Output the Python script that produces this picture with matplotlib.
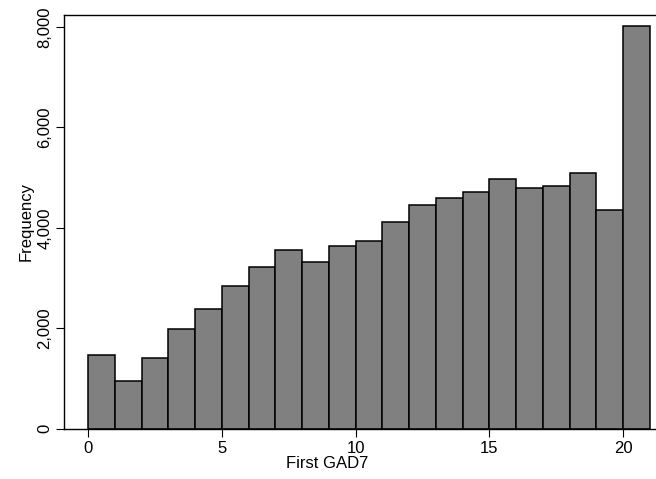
import numpy as np
import matplotlib
matplotlib.use("Agg")
import matplotlib.pyplot as plt

plt.rcParams['font.family'] = ['Liberation Sans', 'DejaVu Sans']

# histogram bins (left edges, width 1) and counts
bin_left = list(range(0, 21))
counts = [1465, 952, 1404, 1976, 2387, 2840, 3211, 3556, 3311, 3630,
          3740, 4122, 4448, 4592, 4706, 4966, 4798, 4840, 5096, 4353, 8025]
xticks = [0, 5, 10, 15, 20]
yticks = [0, 2000, 4000, 6000, 8000]

W, H = 656, 479
fig = plt.figure(figsize=(W / 100, H / 100), dpi=100)
left, right, top, bottom = 64, 656, 15, 428.5
ax = fig.add_axes([left / W, (H - bottom) / H, (right - left) / W, (bottom - top) / H])

ax.bar(bin_left, counts, width=1.0, align='edge', color='#808080',
       edgecolor='black', linewidth=1.1)

ax.set_xlim(-0.9, 21.23)
ax.set_ylim(0, 8240)
ax.spines['right'].set_visible(False)
for s in ['left', 'bottom', 'top']:
    ax.spines[s].set_linewidth(1.0)

ax.set_xticks(xticks)
ax.set_yticks(yticks)
ax.set_yticklabels([f"{v:,}" for v in yticks], rotation=90, va='center')
ax.tick_params(axis='both', direction='out', length=5.5, width=0.8, labelsize=12)
ax.tick_params(axis='x', pad=3.5)
ax.tick_params(axis='y', pad=3)

ax.set_xlabel("First GAD7", fontsize=12)
ax.set_ylabel("Frequency", fontsize=12)
ax.xaxis.set_label_coords((327 - left) / (right - left), -(456 - bottom) / (bottom - top))
ax.yaxis.set_label_coords(-(left - 34) / (right - left), 0.5)

fig.savefig("out.png", dpi=100)
